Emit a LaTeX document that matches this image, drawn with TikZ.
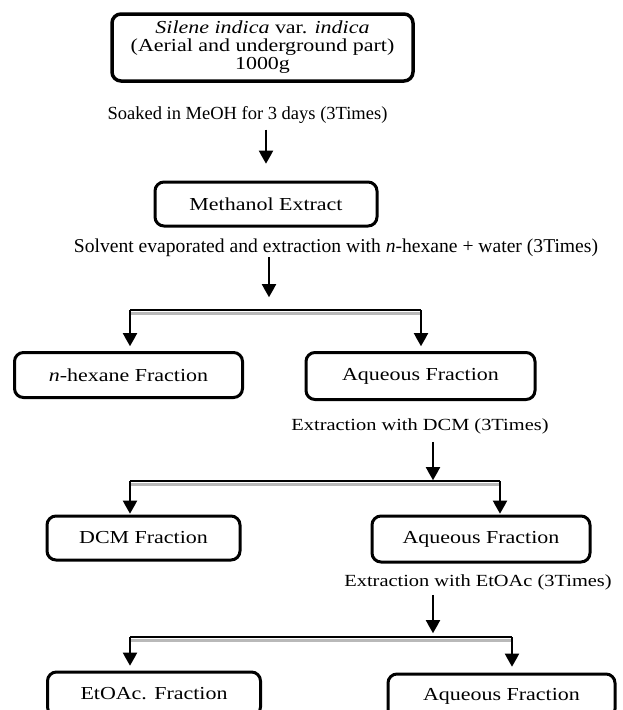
\documentclass[tikz,border=0pt]{standalone}
\usepackage{fontspec}
\setmainfont{Liberation Serif}[FakeStretch=1.2]
\newfontfamily\plainserif{Liberation Serif}
\usetikzlibrary{arrows.meta}

\tikzset{
	box/.style={draw, line width=3pt, rounded corners=9pt, inner sep=0pt, align=center, font=\fontsize{18.3}{18}\selectfont},
	lbl/.style={inner sep=0pt, align=center},
	arr/.style={line width=2.5pt, -{Triangle[length=13pt,width=14pt]}, preaction={draw=gray!70, transform canvas={yshift=-2.5pt}}},
	bar/.style={line width=2pt, preaction={draw=gray!55, line width=3pt, transform canvas={yshift=-3pt}}}
}

\begin{document}
\begin{tikzpicture}[x=1pt, y=-1pt, font=\fontsize{17}{18}\selectfont]
				\useasboundingbox (0,0) rectangle (623,710);

				\node[box, line width=3.5pt, minimum width=301pt, minimum height=67pt] (plant) at (262.5,47.5) {\textit{Silene indica} var. \textit{indica}\\(Aerial and underground part)\\1000g};
				\node[lbl, font=\plainserif\fontsize{18.5}{18}\selectfont] (soak) at (247.5,115) {Soaked in MeOH for 3 days (3Times)};
				\node[box, minimum width=222pt, minimum height=44pt] (meoh) at (266,204) {Methanol Extract};
				\node[lbl, font=\plainserif\fontsize{19.6}{18}\selectfont] (solv) at (336,248) {Solvent evaporated and extraction with \textit{n}-hexane + water (3Times)};

				\node[box, minimum width=228pt, minimum height=45pt] (hex) at (128.5,375) {\textit{n}-hexane Fraction};
				\node[box, minimum width=229pt, minimum height=47pt] (aq1) at (420.5,376) {Aqueous Fraction};
				\node[lbl] (dcmlbl) at (420,426) {Extraction with DCM (3Times)};

				\node[box, minimum width=193pt, minimum height=44pt] (dcm) at (143.5,538) {DCM Fraction};
				\node[box, minimum width=218pt, minimum height=46pt] (aq2) at (481,539) {Aqueous Fraction};
				\node[lbl] (etlbl) at (478,582) {Extraction with EtOAc (3Times)};

				\node[box, minimum width=213pt, minimum height=44pt] (etoac) at (154,694) {EtOAc. Fraction};
				\node[box, minimum width=227pt, minimum height=44pt] (aq3) at (501.5,696) {Aqueous Fraction};

				\coordinate (j1) at (269,310);
				\coordinate (j1l) at (130,310);
				\coordinate (j1r) at (421,310);
				\coordinate (j2) at (433,481);
				\coordinate (j2l) at (130,481);
				\coordinate (j2r) at (500,481);
				\coordinate (j3) at (433,637);
				\coordinate (j3l) at (130,637);
				\coordinate (j3r) at (512,637);

				\draw[arr, shorten <=6pt, shorten >=17pt] (soak.south -| meoh.north) -- (meoh.north);
				\draw[arr, shorten >=13pt] (solv.south -| j1) -- (j1);
				\draw[bar] (j1l) -- (j1r);
				\draw[arr, shorten >=5pt] (j1l) -- (j1l |- hex.north);
				\draw[arr, shorten >=5pt] (j1r) -- (j1r |- aq1.north);

				\draw[arr, shorten <=8pt, shorten >=1pt] (dcmlbl.south -| j2) -- (j2);
				\draw[bar] (j2l) -- (j2r);
				\draw[arr, shorten >=1pt] (j2l) -- (j2l |- dcm.north);
				\draw[arr, shorten >=1pt] (j2r) -- (j2r |- aq2.north);

				\draw[arr, shorten <=5pt, shorten >=4pt] (etlbl.south -| j3) -- (j3);
				\draw[bar] (j3l) -- (j3r);
				\draw[arr, shorten >=5pt] (j3l) -- (j3l |- etoac.north);
				\draw[arr, shorten >=6pt] (j3r) -- (j3r |- aq3.north);
\end{tikzpicture}
\end{document}
